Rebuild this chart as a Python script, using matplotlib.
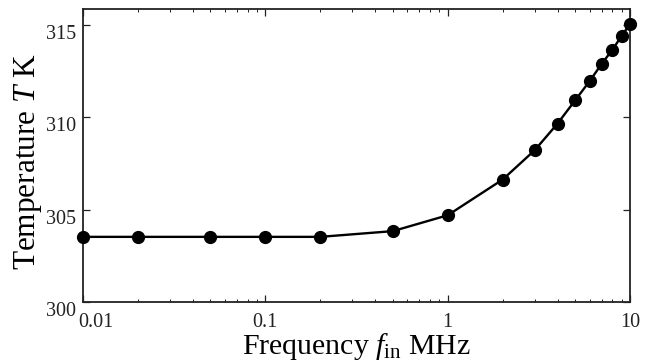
import matplotlib

matplotlib.use("Agg")
import matplotlib.pyplot as plt
import matplotlib.transforms as mtransforms

plt.rcParams["font.family"] = ["Liberation Serif", "DejaVu Serif"]
plt.rcParams["mathtext.fontset"] = "custom"
plt.rcParams["mathtext.rm"] = "Liberation Serif"
plt.rcParams["mathtext.it"] = "Liberation Serif:italic"

# frequency in MHz, temperature in K
freq = [0.01, 0.02, 0.05, 0.1, 0.2, 0.5, 1, 2, 3, 4, 5, 6, 7, 8, 9, 10]
temp = [303.53, 303.53, 303.53, 303.53, 303.53, 303.84, 304.70, 306.63,
        308.22, 309.66, 310.92, 311.96, 312.90, 313.66, 314.41, 315.06]

x_ticks = [0.01, 0.1, 1, 10]
x_labels = ["0.01", "0.1", "1", "10"]
y_ticks = [300, 305, 310, 315]
y_labels = ["300", "305", "310", "315"]

fig = plt.figure(figsize=(6.53, 3.64), dpi=100)
ax = fig.add_axes([0.127, 0.170, 0.838, 0.805])

ax.plot(freq, temp, color="black", linewidth=1.7, marker="o",
        markersize=8.5, markerfacecolor="black", markeredgecolor="black",
        clip_on=False, zorder=3)

ax.set_xscale("log")
ax.set_xlim(0.01, 10)
ax.set_ylim(300, 315.85)

ax.set_xticks(x_ticks)
ax.set_xticklabels(x_labels)
ax.set_yticks(y_ticks)
ax.set_yticklabels(y_labels)
ax.yaxis.set_minor_locator(matplotlib.ticker.NullLocator())

ax.tick_params(which="both", direction="in", top=True, right=True,
               labelsize=14.5, colors="#222222")
ax.tick_params(which="major", length=5, width=0.9)
ax.tick_params(which="minor", length=2.5, width=0.7)
ax.tick_params(axis="x", pad=8)
ax.tick_params(axis="y", pad=5)

for lab in ax.get_yticklabels():
    lab.set_verticalalignment("top")
first = ax.get_xticklabels()[0]
first.set_transform(first.get_transform() +
                    mtransforms.ScaledTranslation(13 / 100, 0, fig.dpi_scale_trans))

for side in ax.spines.values():
    side.set_linewidth(1.3)
    side.set_color("#222222")

ax.set_xlabel(r"Frequency $f_{\mathrm{in}}$ MHz", fontsize=21.5, labelpad=-1)
ax.set_ylabel(r"Temperature $T$ K", fontsize=22.5)
ax.yaxis.set_label_coords(-0.072, 0.48)

fig.savefig("out.png", dpi=100)
plt.close(fig)
